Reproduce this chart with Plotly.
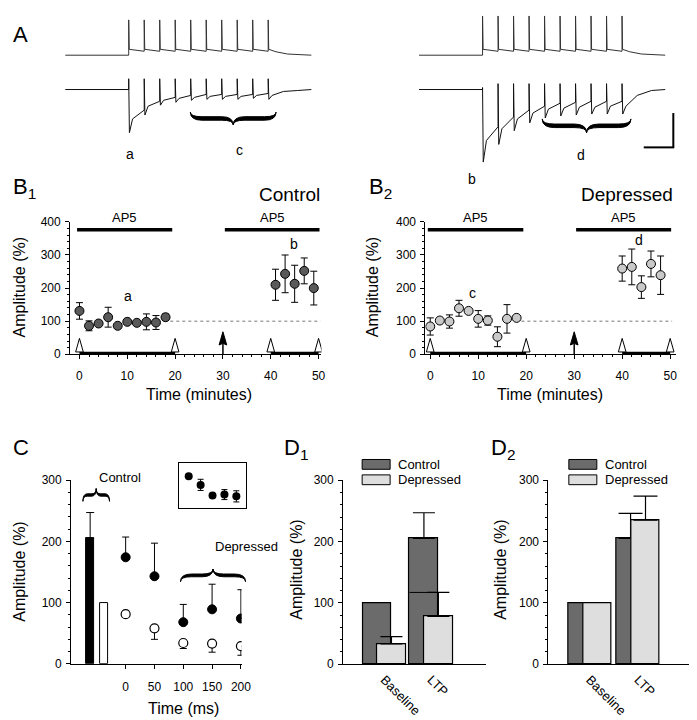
import plotly.graph_objects as go

W, H = 697, 720
FONT = "Liberation Sans, Arial, sans-serif"


def X(px):
    return px / W


def Y(py):
    return 1 - py / H


# ---------------- DATA ----------------
# Panel A: stimulus train (ms) and read deflections (arbitrary units ~ px)
pulse_t = [82, 102, 122, 142, 162, 182, 202, 222, 242, 262]
top_peak_ctrl = [36, 36, 36, 36, 36, 36, 36, 36, 36, 36]
top_peak_dep = [40, 40, 40, 40, 40, 40, 40, 40, 40, 40]
top_after = [6, 6, 6, 6, 6, 6, 6, 6, 6, 6]
top_before = [0, 4, 4, 4, 4, 4, 4, 4, 4, 4]
top_tail_t = [272, 287, 318]
top_tail_v = [3.5, 1.2, 0.0]

ctrl_spike = [11, 11, 11, 11, 11, 11, 11, 11, 11, 11]
ctrl_trough = [44, 26, 16, 13, 11, 10, 10, 10, 9, 10]
ctrl_knee = [30, 17, 11, 9, 8, 7, 7, 7, 6, 6]
ctrl_end = [21, 12, 8, 6, 5, 5, 5, 5, 4, 2]
dep_spike = [2, 6, 6, 6, 6, 6, 6, 6, 6, 6]
dep_trough = [74, 56, 42, 34, 29, 27, 26, 25, 25, 25]
dep_knee = [52, 40, 30, 24, 20, 19, 18, 18, 17, 17]
dep_end = [38, 28, 21, 17, 14, 13, 12, 12, 12, 6]
tail_t = [300, 318]
tail_v = [-1, 0]

# Panel B1 (Control)
b1_t_base = [0, 2, 4, 6, 8, 10, 12, 14, 16, 18]
b1_base = [131, 86, 93, 112, 86, 98, 95, 98, 96, 112]
b1_base_err = [25, 15, 6, 30, 4, 5, 6, 24, 21, 10]
b1_t_ltp = [41, 43, 45, 47, 49]
b1_ltp = [210, 243, 213, 252, 200]
b1_ltp_err = [47, 57, 56, 39, 51]

# Panel B2 (Depressed)
b2_t_base = [0, 2, 4, 6, 8, 10, 12, 14, 16, 18]
b2_base = [84, 102, 99, 139, 131, 107, 102, 53, 107, 110]
b2_base_err = [26, 6, 20, 24, 3, 25, 14, 30, 43, 6]
b2_t_ltp = [40, 42, 44, 46, 48]
b2_ltp = [259, 264, 203, 273, 239]
b2_ltp_err = [38, 54, 34, 39, 58]

ap5_periods = [(-0.5, 19.4), (30.4, 50.2)]
stim_marks = [0, 20, 40, 50]
induction_t = 30

# Panel C
c_bar_vals = [205, 100]
c_bar_err = [42, 0]
c_times = [0, 50, 100, 150, 200]
c_ctrl = [174, 143, 68, 89, 74]
c_ctrl_err = [33, 54, 29, 41, 47]
c_dep = [81, 58, 34, 33, 29]
c_dep_err = [0, 18, 9, 14, 15]
inset_x = [1, 2, 3, 4, 5]
inset_vals = [106, 77, 41, 44, 38]
inset_err = [0, 19, 0, 17, 19]

# Panels D1 / D2
d_groups = ["Baseline", "LTP"]
d1_ctrl = [100, 205]
d1_ctrl_err = [0, 42]
d1_dep = [33, 78]
d1_dep_err = [12, 39]
d2_ctrl = [100, 205]
d2_ctrl_err = [0, 41]
d2_dep = [100, 235]
d2_dep_err = [0, 39]

CTRL_COL = "#6b6b6b"
DEP_COL = "#dedede"
B1_COL = "#5a5a5a"
B2_COL = "#c9c9c9"

fig = go.Figure()
shapes = []
annots = []


# ---------------- Panel A ----------------
def top_trace(peaks):
    xs, ys = [0, pulse_t[0]], [0, top_before[0]]
    for i, t in enumerate(pulse_t):
        xs += [t, t, t + 0.7]
        ys += [top_before[i], peaks[i], top_after[i]]
        if i < len(pulse_t) - 1:
            xs.append(pulse_t[i + 1])
            ys.append(top_before[i + 1])
    xs += top_tail_t
    ys += top_tail_v
    return xs, ys


def bottom_trace(spike, trough, knee, end):
    xs, ys = [0, pulse_t[0]], [0, 0]
    prev = 0
    for i, t in enumerate(pulse_t):
        xs += [t, t, t + 0.9, t + 5, t + 19.6]
        ys += [-prev, spike[i], -trough[i], -knee[i], -end[i]]
        prev = end[i]
    xs += tail_t
    ys += tail_v
    return xs, ys


TOP_BASE, BOT_BASE = -41, -76
for ax, peaks, bt in (("", top_peak_ctrl, (ctrl_spike, ctrl_trough, ctrl_knee, ctrl_end)),
                      ("2", top_peak_dep, (dep_spike, dep_trough, dep_knee, dep_end))):
    tx, ty = top_trace(peaks)
    fig.add_trace(go.Scatter(x=tx, y=[TOP_BASE + v for v in ty], mode="lines",
                             line=dict(color="#333", width=1), xaxis="x" + ax, yaxis="y" + ax,
                             hoverinfo="skip"))
    bx, by = bottom_trace(*bt)
    fig.add_trace(go.Scatter(x=bx, y=[BOT_BASE + v for v in by], mode="lines",
                             line=dict(color="#111", width=1), xaxis="x" + ax, yaxis="y" + ax,
                             hoverinfo="skip"))


def brace_path(x1, x2, y_end, y_tip, th=1.4):
    xm = (x1 + x2) / 2
    ym = (y_end + y_tip) / 2
    d = 1 if y_tip > y_end else -1
    r = min(abs(y_tip - y_end) * 0.9, (x2 - x1) / 6)
    ya = ym - d * th
    yb = ym + d * th

    def P(x, y):
        return f"{X(x):.5f},{Y(y):.5f}"

    p = (f"M {P(x1, y_end)} Q {P(x1, ya)} {P(x1 + r, ya)} L {P(xm - r, ya)} "
         f"Q {P(xm, ya)} {P(xm, y_tip)} Q {P(xm, ya)} {P(xm + r, ya)} L {P(x2 - r, ya)} "
         f"Q {P(x2, ya)} {P(x2, y_end)} Q {P(x2, yb)} {P(x2 - r, yb)} L {P(xm + r, yb)} "
         f"Q {P(xm, yb)} {P(xm, y_tip)} Q {P(xm, yb)} {P(xm - r, yb)} L {P(x1 + r, yb)} "
         f"Q {P(x1, yb)} {P(x1, y_end)} Z")
    return dict(type="path", path=p, xref="paper", yref="paper", fillcolor="black",
                line=dict(color="black", width=1))


shapes.append(brace_path(185, 272, 99, 112, 1.8))
shapes.append(brace_path(542, 632, 106, 120, 1.8))
shapes.append(brace_path(76, 103, 496, 483, 1.2))
shapes.append(brace_path(175, 241, 578, 565, 1.4))
# scale bar
shapes.append(dict(type="line", xref="paper", yref="paper", x0=X(675), x1=X(675), y0=Y(100), y1=Y(135),
                   line=dict(color="black", width=2)))
shapes.append(dict(type="line", xref="paper", yref="paper", x0=X(645), x1=X(675.9), y0=Y(135), y1=Y(135),
                   line=dict(color="black", width=2)))

for txt, px, py in (("a", 118, 132), ("c", 229, 127), ("b", 477, 157), ("d", 587, 133)):
    annots.append(dict(text=txt, x=X(px), y=Y(py), xref="paper", yref="paper", showarrow=False,
                       font=dict(size=14, family=FONT, color="black")))

# ---------------- Panels B ----------------
for n, (tb, vb, eb, tl, vl, el, col) in ((3, (b1_t_base, b1_base, b1_base_err, b1_t_ltp, b1_ltp, b1_ltp_err, B1_COL)),
                                         (4, (b2_t_base, b2_base, b2_base_err, b2_t_ltp, b2_ltp, b2_ltp_err, B2_COL))):
    xr, yr = f"x{n}", f"y{n}"
    for tt, vv, ee in ((tb, vb, eb), (tl, vl, el)):
        fig.add_trace(go.Scatter(x=tt, y=vv, mode="markers", xaxis=xr, yaxis=yr,
                                 marker=dict(size=9, color=col, line=dict(color="black", width=1)),
                                 error_y=dict(type="data", array=ee, color="black", thickness=1, width=3.5),
                                 hoverinfo="skip"))
    # AP5 bars
    for a0, a1 in ap5_periods:
        shapes.append(dict(type="line", xref=xr, yref=yr, x0=a0, x1=a1, y0=376, y1=376,
                           line=dict(color="black", width=3.5)))
        annots.append(dict(text="AP5", x=(a0 + a1) / 2, y=376, yshift=12, xref=xr, yref=yr,
                           showarrow=False, font=dict(size=13, family=FONT, color="black")))
    # baseline reference (dotted)
    shapes.append(dict(type="line", xref=xr, yref=yr, x0=19, x1=50.4, y0=100, y1=100,
                       line=dict(color="#777", width=1, dash="dot")))
    # stimulation brackets
    for s0, s1 in ((stim_marks[0], stim_marks[1]), (stim_marks[2], stim_marks[3])):
        shapes.append(dict(type="line", xref=xr, yref=yr, x0=s0, x1=s1, y0=4, y1=4,
                           line=dict(color="black", width=2.5)))
    for s in stim_marks:
        hw = 0.8
        shapes.append(dict(type="path", xref=xr, yref=yr,
                           path=f"M {s},48 L {s + hw},7 L {s - hw},7 Z",
                           fillcolor="white", line=dict(color="black", width=1)))
    # induction arrow (filled)
    shapes.append(dict(type="line", xref=xr, yref=yr, x0=induction_t, x1=induction_t, y0=0, y1=32,
                       line=dict(color="black", width=1.5)))
    shapes.append(dict(type="path", xref=xr, yref=yr,
                       path=f"M {induction_t},68 L {induction_t + 0.8},28 L {induction_t},33 "
                            f"L {induction_t - 0.8},28 Z",
                       fillcolor="black", line=dict(color="black", width=1)))

annots += [
    dict(text="a", x=10.1, y=176, xref="x3", yref="y3", showarrow=False, font=dict(size=14, family=FONT)),
    dict(text="b", x=44.8, y=333, xref="x3", yref="y3", showarrow=False, font=dict(size=14, family=FONT)),
    dict(text="c", x=8.9, y=185, xref="x4", yref="y4", showarrow=False, font=dict(size=14, family=FONT)),
    dict(text="d", x=43.6, y=344, xref="x4", yref="y4", showarrow=False, font=dict(size=14, family=FONT)),
]

# ---------------- Panel C ----------------
fig.add_trace(go.Bar(x=[-61.6], y=[c_bar_vals[0]], width=13.7, xaxis="x5", yaxis="y5",
                     marker=dict(color="black", line=dict(color="black", width=1)),
                     error_y=dict(type="data", array=[c_bar_err[0]], arrayminus=[0], symmetric=False,
                                  color="black", thickness=1, width=4), hoverinfo="skip"))
fig.add_trace(go.Bar(x=[-37.7], y=[c_bar_vals[1]], width=13.7, xaxis="x5", yaxis="y5",
                     marker=dict(color="white", line=dict(color="black", width=1)), hoverinfo="skip"))
fig.add_trace(go.Scatter(x=c_times, y=c_ctrl, mode="markers", xaxis="x5", yaxis="y5",
                         marker=dict(size=9, color="black", line=dict(color="black", width=1)),
                         error_y=dict(type="data", array=c_ctrl_err, arrayminus=[0] * 5, symmetric=False,
                                      color="black", thickness=1, width=3.5), hoverinfo="skip"))
fig.add_trace(go.Scatter(x=c_times, y=c_dep, mode="markers", xaxis="x5", yaxis="y5",
                         marker=dict(size=9, color="white", line=dict(color="black", width=1.2)),
                         error_y=dict(type="data", array=[0] * 5, arrayminus=c_dep_err, symmetric=False,
                                      color="black", thickness=1, width=3.5), hoverinfo="skip"))
fig.add_trace(go.Scatter(x=inset_x, y=inset_vals, mode="markers", xaxis="x6", yaxis="y6",
                         marker=dict(size=8, color="black"),
                         error_y=dict(type="data", array=inset_err, color="black", thickness=1, width=3),
                         hoverinfo="skip"))
annots += [
    dict(text="Control", x=X(90), y=Y(472), xref="paper", yref="paper", showarrow=False,
         font=dict(size=13, family=FONT)),
    dict(text="Depressed", x=X(208), y=Y(552), xref="paper", yref="paper", showarrow=False,
         font=dict(size=13, family=FONT)),
]


# ---------------- Panels D ----------------
def d_bars(ax, ctrl, ctrl_err, dep, dep_err, width, off, cap):
    for vals, errs, col, sgn in ((ctrl, ctrl_err, CTRL_COL, -1), (dep, dep_err, DEP_COL, 1)):
        for g, (v, e) in enumerate(zip(vals, errs)):
            kw = {}
            if e > 0:
                kw["error_y"] = dict(type="data", array=[e], arrayminus=[0], symmetric=False,
                                     color="black", thickness=1.2, width=cap)
            fig.add_trace(go.Bar(x=[g + sgn * off], y=[v], width=width, xaxis="x" + ax, yaxis="y" + ax,
                                 marker=dict(color=col, line=dict(color="black", width=1.2)),
                                 hoverinfo="skip", **kw))


d_bars("7", d1_ctrl, d1_ctrl_err, d1_dep, d1_dep_err, 0.61, 0.154, 11)
d_bars("8", d2_ctrl, d2_ctrl_err, d2_dep, d2_dep_err, 0.575, 0.155, 12)
# drawn line at depressed LTP error level across the control bar (as in original)
shapes.append(dict(type="line", xref="x7", yref="y7", x0=0.846 - 0.305, x1=1.154,
                   y0=d1_dep[1] + d1_dep_err[1], y1=d1_dep[1] + d1_dep_err[1],
                   line=dict(color="black", width=1)))

for sx, tx in ((359.3, 394), (569, 603.5)):
    for (y0, y1, col, lab) in ((453.3, 463.3, CTRL_COL, "Control"), (469, 479, DEP_COL, "Depressed")):
        shapes.append(dict(type="rect", xref="paper", yref="paper", x0=X(sx), x1=X(sx + 28.4),
                           y0=Y(y1), y1=Y(y0), fillcolor=col, line=dict(color="black", width=1)))
        annots.append(dict(text=lab, x=X(tx), y=Y((y0 + y1) / 2), xref="paper", yref="paper",
                           xanchor="left", showarrow=False, font=dict(size=13, family=FONT)))


# ---------------- Titles / labels ----------------
def lab(text, px, py, size, angle=0, xanchor="center", yanchor="middle"):
    annots.append(dict(text=text, x=X(px), y=Y(py), xref="paper", yref="paper", showarrow=False,
                       textangle=angle, xanchor=xanchor, yanchor=yanchor,
                       font=dict(size=size, family=FONT, color="black")))


lab("A", 3, 5, 22, xanchor="left", yanchor="top")
lab("B<sub>1</sub>", 3, 160, 22, xanchor="left", yanchor="top")
lab("B<sub>2</sub>", 364, 160, 22, xanchor="left", yanchor="top")
lab("C", 3, 426, 22, xanchor="left", yanchor="top")
lab("D<sub>1</sub>", 278, 426, 22, xanchor="left", yanchor="top")
lab("D<sub>2</sub>", 488, 426, 22, xanchor="left", yanchor="top")
lab("Control", 319, 183, 19, xanchor="right")
lab("Depressed", 677, 183, 19, xanchor="right")
lab("Amplitude (%)", 12, 278, 16, angle=-90)
lab("Amplitude (%)", 370, 278, 16, angle=-90)
lab("Time (minutes)", 194, 387, 16)
lab("Time (minutes)", 550, 387, 16)
lab("Amplitude (%)", 12, 568, 16, angle=-90)
lab("Time (ms)", 178, 707, 16)
lab("Amplitude (%)", 293, 566, 16, angle=-90)
lab("Amplitude (%)", 500, 566, 16, angle=-90)

# ---------------- Axes ----------------
tickfont = dict(size=12, family=FONT, color="black")


def ax_style(**kw):
    d = dict(showline=True, linecolor="black", linewidth=1, ticks="outside", tickcolor="black",
             ticklen=4, tickwidth=1, showgrid=False, zeroline=False, tickfont=tickfont,
             ticklabelstandoff=2)
    d.update(kw)
    return d


hidden = dict(visible=False, showgrid=False, zeroline=False)
minor_y = dict(ticks="outside", ticklen=2, tickcolor="black", dtick=20, tick0=0, showgrid=False)
minor_x = dict(ticks="outside", ticklen=2, tickcolor="black", dtick=2, tick0=0, showgrid=False)

layout = dict(
    width=W, height=H, margin=dict(l=0, r=0, t=0, b=0), showlegend=False,
    paper_bgcolor="white", plot_bgcolor="white", barmode="overlay", bargap=0,
    font=dict(family=FONT, color="black"),
    xaxis=dict(hidden, domain=[X(58), X(308)], range=[0, 318], anchor="y"),
    yaxis=dict(hidden, domain=[Y(160), Y(0)], range=[-160, 0], anchor="x"),
    xaxis2=dict(hidden, domain=[X(417), X(667)], range=[0, 318], anchor="y2"),
    yaxis2=dict(hidden, domain=[Y(160), Y(0)], range=[-160, 0], anchor="x2"),
    xaxis3=ax_style(domain=[X(63), X(318)], range=[-1.96, 50.6], anchor="y3", tick0=0, dtick=10,
                    minor=minor_x, ticklabelstandoff=6),
    yaxis3=ax_style(domain=[Y(346), Y(211)], range=[0, 400], anchor="x3", tick0=0, dtick=100,
                    minor=minor_y),
    xaxis4=ax_style(domain=[X(423.5), X(678)], range=[-1.0, 51.27], anchor="y4", tick0=0, dtick=10,
                    minor=minor_x, ticklabelstandoff=6),
    yaxis4=ax_style(domain=[Y(346), Y(211)], range=[0, 400], anchor="x4", tick0=0, dtick=100,
                    minor=minor_y),
    xaxis5=ax_style(domain=[X(64), X(237)], range=[-94.7, 201.2], anchor="y5",
                    tickvals=c_times, ticklabelstandoff=8),
    yaxis5=ax_style(domain=[Y(661.7), Y(474.3)], range=[0, 300], anchor="x5", tick0=0, dtick=100,
                    minor=minor_y),
    xaxis6=dict(domain=[X(173.3), X(241.7)], range=[0.17, 5.83], anchor="y6", showline=True,
                mirror=True, linecolor="black", linewidth=1, showticklabels=False, ticks="",
                showgrid=False, zeroline=False),
    yaxis6=dict(domain=[Y(502.3), Y(457.3)], range=[0, 150], anchor="x6", showline=True,
                mirror=True, linecolor="black", linewidth=1, showticklabels=False, ticks="",
                showgrid=False, zeroline=False),
    xaxis7=ax_style(domain=[X(340), X(485)], range=[-0.876, 2.17], anchor="y7", ticks="",
                    tickvals=[0, 1], ticktext=d_groups, tickangle=45,
                    tickfont=dict(size=13, family=FONT, color="black")),
    yaxis7=ax_style(domain=[Y(662), Y(474.5)], range=[0, 300], anchor="x7", tick0=0, dtick=100,
                    minor=minor_y),
    xaxis8=ax_style(domain=[X(548.3), X(697)], range=[-0.859, 2.182], anchor="y8", ticks="",
                    tickvals=[0, 1], ticktext=d_groups, tickangle=45,
                    tickfont=dict(size=13, family=FONT, color="black")),
    yaxis8=ax_style(domain=[Y(662), Y(474.5)], range=[0, 300], anchor="x8", tick0=0, dtick=100,
                    minor=minor_y),
    shapes=shapes,
    annotations=annots,
)
fig.update_layout(**layout)
fig.write_html("out.html")
